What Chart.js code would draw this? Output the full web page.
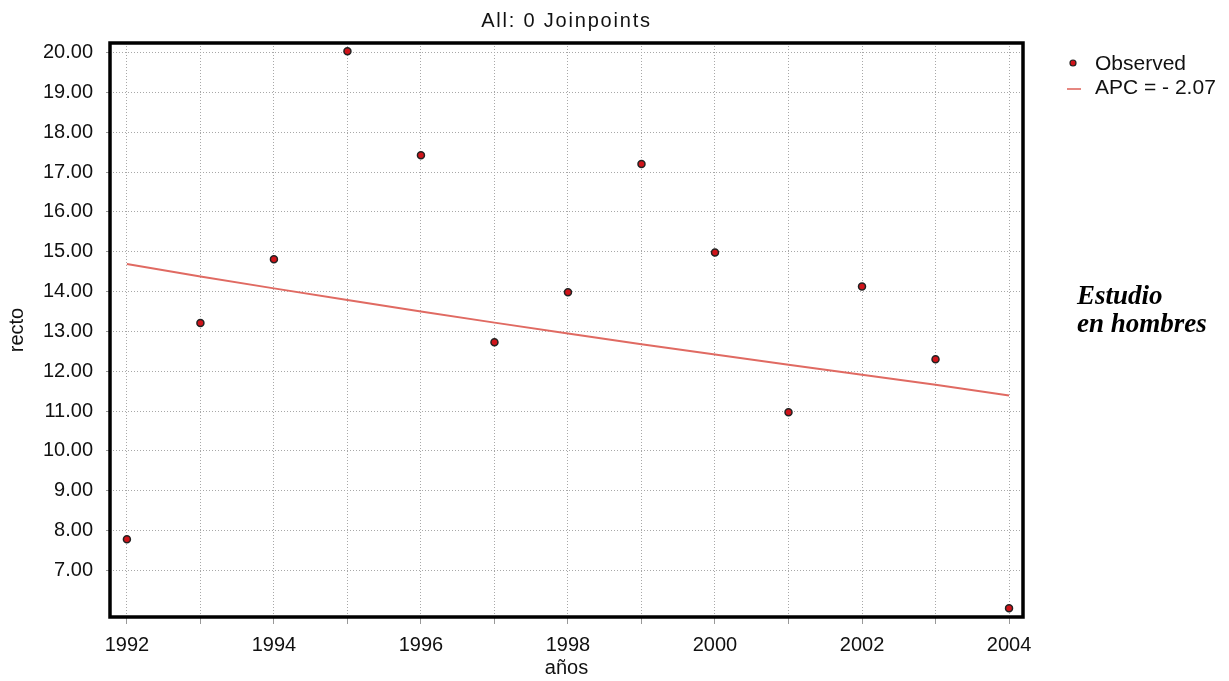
<!DOCTYPE html>
<html>
<head>
<meta charset="utf-8">
<script src="https://cdn.jsdelivr.net/npm/chart.js@4"></script>
<style>
  body { margin: 0; background: #fff; }
  #wrap { position: relative; width: 1229px; height: 681px; }
  #note {
    position: absolute; left: 1077px; top: 281px;
    font-family: "Liberation Serif", serif; font-style: italic; font-weight: bold;
    font-size: 27px; line-height: 28px; color: #000;
  }
</style>
</head>
<body>
<div id="wrap">
  <canvas id="jp_chart" width="1229" height="681"></canvas>
  <div id="note">Estudio<br>en hombres</div>
</div>
<script>
// values
const years = [1992, 1993, 1994, 1995, 1996, 1997, 1998, 1999, 2000, 2001, 2002, 2003, 2004];
const observed = [7.78, 13.21, 14.81, 20.03, 17.42, 12.73, 13.98, 17.20, 14.98, 10.97, 14.13, 12.30, 6.05];
const fitted = [14.69, 14.38, 14.08, 13.79, 13.50, 13.22, 12.95, 12.68, 12.42, 12.16, 11.91, 11.66, 11.39];
const yTicks = [7, 8, 9, 10, 11, 12, 13, 14, 15, 16, 17, 18, 19, 20];
const chartTitle = 'All: 0 Joinpoints';
const legendLabels = ['Observed', 'APC = - 2.07'];

const font = 'Liberation Sans, Arial, sans-serif';

// black frame, title and legend drawn around the plot
const extras = {
    id: 'extras',
    afterDraw(c) {
        const ctx = c.ctx;
        const a = c.chartArea;
        ctx.save();
        ctx.strokeStyle = '#000';
        ctx.lineWidth = 3.5;
        ctx.strokeRect(a.left, a.top, a.right - a.left, a.bottom - a.top);

        ctx.fillStyle = '#111';
        ctx.font = '20px ' + font;
        ctx.letterSpacing = '1.8px';
        ctx.textAlign = 'center';
        ctx.textBaseline = 'middle';
        ctx.fillText(chartTitle, (a.left + a.right) / 2, a.top - 22);
        ctx.letterSpacing = '0px';

        // legend
        const lx = a.right + 50;
        ctx.beginPath();
        ctx.arc(lx, 63, 3, 0, Math.PI * 2);
        ctx.fillStyle = '#d0141a';
        ctx.fill();
        ctx.lineWidth = 1.2;
        ctx.strokeStyle = '#222';
        ctx.stroke();
        ctx.strokeStyle = '#e06a62';
        ctx.lineWidth = 1.6;
        ctx.beginPath();
        ctx.moveTo(lx - 6, 89);
        ctx.lineTo(lx + 8, 89);
        ctx.stroke();
        ctx.fillStyle = '#111';
        ctx.font = '21px ' + font;
        ctx.textAlign = 'left';
        ctx.fillText(legendLabels[0], lx + 22, 64);
        ctx.fillText(legendLabels[1], lx + 22, 88);
        ctx.restore();
    }
};

const ctx = document.getElementById('jp_chart').getContext('2d');
const chart = new Chart(ctx, {
    type: 'scatter',
    data: {
        datasets: [{
            label: legendLabels[0],
            data: years.map((y, i) => ({ x: y, y: observed[i] })),
            backgroundColor: '#d0141a',
            borderColor: '#222',
            borderWidth: 1.5,
            pointRadius: 3.5
        }, {
            label: legendLabels[1],
            type: 'line',
            data: years.map((y, i) => ({ x: y, y: fitted[i] })),
            borderColor: '#e06a62',
            borderWidth: 2,
            pointRadius: 0,
            fill: false
        }]
    },
    options: {
        responsive: false,
        animation: false,
        layout: { padding: { left: 0, top: 43, right: 206, bottom: 0 } },
        plugins: { legend: { display: false }, tooltip: { enabled: false } },
        scales: {
            x: {
                type: 'linear',
                min: 1991.77,
                max: 2004.19,
                afterFit: s => { s.height = 64; },
                afterBuildTicks: s => { s.ticks = years.map(v => ({ value: v })); },
                grid: { color: '#a8a8a8', lineWidth: 1, tickLength: 7, tickColor: '#999', tickBorderDash: [] },
                border: { display: false, dash: [1, 2] },
                ticks: {
                    autoSkip: false, maxRotation: 0, padding: 9, color: '#111',
                    font: { family: font, size: 20 },
                    callback: v => (v % 2 === 0 ? String(v) : '')
                },
                title: { display: true, text: 'años', color: '#111', font: { family: font, size: 20 }, padding: { top: 0, bottom: 1 } }
            },
            y: {
                min: 5.83,
                max: 20.24,
                afterFit: s => { s.width = 110; },
                afterBuildTicks: s => { s.ticks = yTicks.map(v => ({ value: v })); },
                grid: { color: '#a8a8a8', lineWidth: 1, tickLength: 4, tickColor: '#999' },
                border: { display: false, dash: [1, 2] },
                ticks: {
                    padding: 13, color: '#111',
                    font: { family: font, size: 20 },
                    callback: v => v.toFixed(2)
                },
                title: { display: true, text: 'recto', color: '#111', font: { family: font, size: 20 }, padding: { top: 5, bottom: 0 } }
            }
        }
    },
    plugins: [extras]
});
</script>
</body>
</html>
